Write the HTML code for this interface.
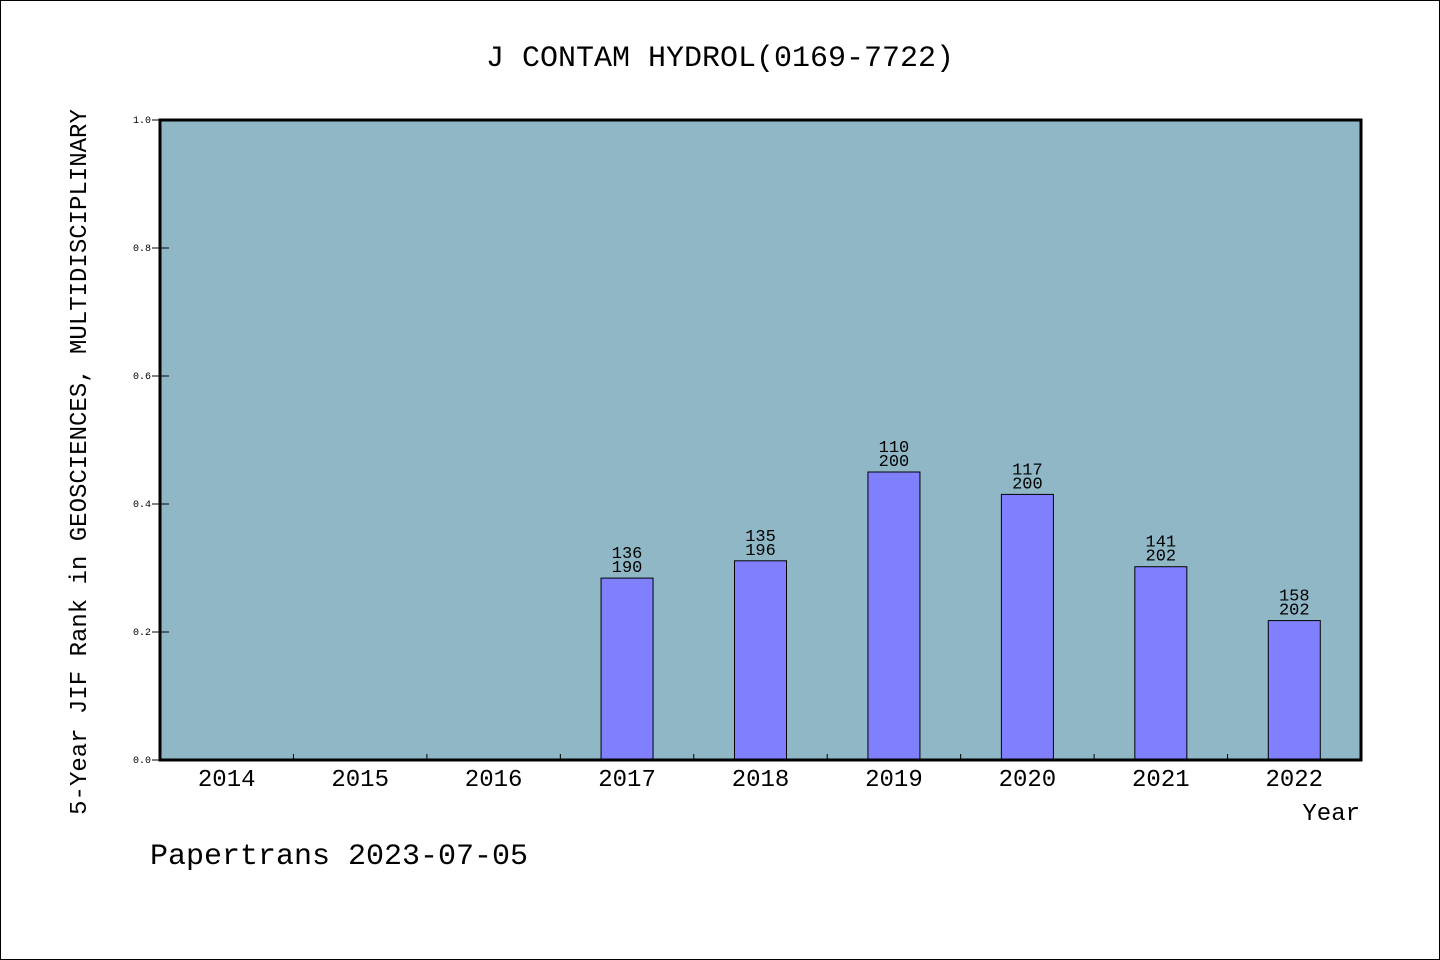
<!DOCTYPE html>
<html><head><meta charset="utf-8"><style>
html,body{margin:0;padding:0;background:#fff}
svg{display:block;font-family:"Liberation Mono","WenQuanYi Zen Hei",monospace}
</style></head><body>
<svg id="chart" width="1440" height="960" viewBox="0 0 1440 960">
<rect x="0.5" y="0.5" width="1439" height="959" fill="#fff" stroke="#000"/>
<text x="720" y="66" font-size="30" text-anchor="middle">J CONTAM HYDROL(0169-7722)</text>
<rect x="160" y="120" width="1201" height="640" fill="#8fb7c6"/>
<g id="bars"></g>
<g id="axes"></g>
<rect x="160" y="120" width="1201" height="640" fill="none" stroke="#000" stroke-width="3"/>
<text x="86" y="462" font-size="24" text-anchor="middle" transform="rotate(-90 86 462)">5-Year JIF Rank in GEOSCIENCES, MULTIDISCIPLINARY</text>
<text x="1360" y="820" font-size="24" text-anchor="end">Year</text>
<text x="150" y="864" font-size="30">Papertrans 2023-07-05</text>
</svg>
<script>
const categories = ["2014","2015","2016","2017","2018","2019","2020","2021","2022"];
const ranks = [null,null,null,136,135,110,117,141,158];
const totals = [null,null,null,190,196,200,200,202,202];
const yTicks = [0,0.2,0.4,0.6,0.8,1.0];
const NS="http://www.w3.org/2000/svg";
const L=160,R=1361,T=120,B=760;
const bw=(R-L)/categories.length;
const xs=i=>L+bw*(i+0.5);
const ys=v=>B-(B-T)*v;
function mk(t,a,p){const e=document.createElementNS(NS,t);for(const k in a)e.setAttribute(k,a[k]);p.appendChild(e);return e;}
const gb=document.getElementById('bars'),ga=document.getElementById('axes');
categories.forEach((c,i)=>{
  if(ranks[i]!=null){
    const v=1-ranks[i]/totals[i];
    const r=mk('rect',{x:xs(i)-26,y:ys(v),width:52,height:B-ys(v),fill:'#8080ff',stroke:'#000','stroke-width':1},gb);
    
    
    const t1=mk('text',{x:xs(i),y:ys(v)-20,'font-size':17,'text-anchor':'middle'},gb);
    t1.textContent=ranks[i];
    
    
    const t2=mk('text',{x:xs(i),y:ys(v)-6,'font-size':17,'text-anchor':'middle'},gb);
    t2.textContent=totals[i];
    
    
  }
  const xl=mk('text',{x:xs(i),y:786,'font-size':24,'text-anchor':'middle'},ga);
  xl.textContent=c;
  
  
  if(i>0){
    const tk=mk('line',{x1:L+bw*i,x2:L+bw*i,y1:B,y2:B-6,stroke:'#000'},ga);
    
    
  }
});
yTicks.forEach(v=>{
  const ln=mk('line',{x1:152,x2:169,y1:ys(v),y2:ys(v),stroke:'#000'},ga);
  
  
  const t=mk('text',{x:151,y:ys(v)+3,'font-size':10,'text-anchor':'end'},ga);
  t.textContent=v.toFixed(1);
  
  
});
</script>
</body></html>
